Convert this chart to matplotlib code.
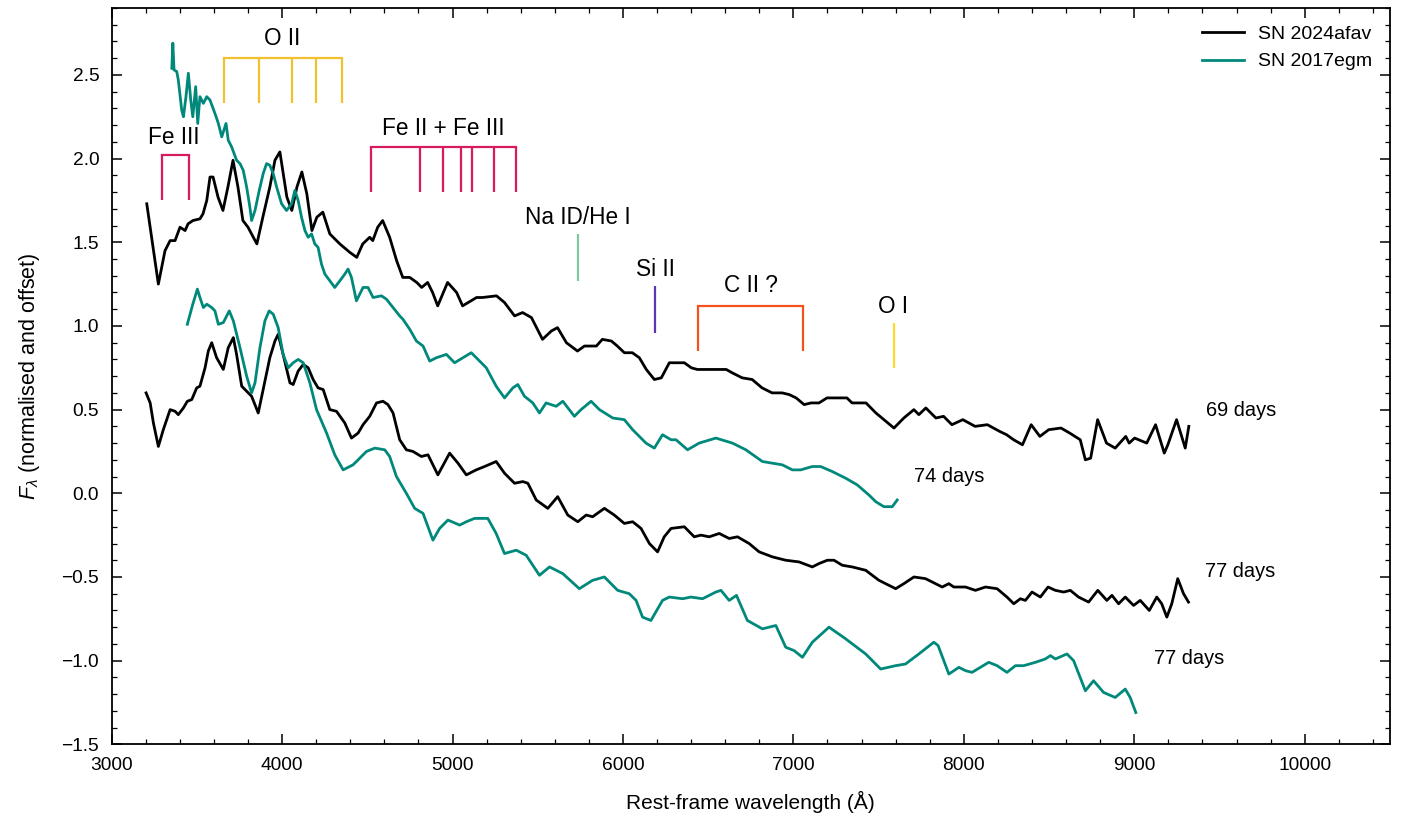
import matplotlib
matplotlib.use("Agg")
import matplotlib.pyplot as plt
from matplotlib.ticker import MultipleLocator

plt.rcParams['font.family'] = ['Liberation Sans', 'DejaVu Sans']
plt.rcParams['mathtext.fontset'] = 'custom'
plt.rcParams['mathtext.rm'] = 'Liberation Sans'
plt.rcParams['mathtext.it'] = 'Liberation Sans:italic'

# ---------------- data ----------------
# SN 2024afav, 69 days
wl_a69 = [3206, 3274, 3313, 3343, 3372, 3401, 3431, 3448, 3477, 3518,
          3536, 3558, 3577, 3595, 3624, 3653, 3682, 3712, 3741, 3770,
          3800, 3852, 3887, 3928, 3958, 3987, 4028, 4057, 4087, 4116,
          4145, 4175, 4204, 4239, 4280, 4339, 4397, 4438, 4473, 4514,
          4532, 4561, 4590, 4631, 4672, 4708, 4749, 4790, 4819, 4854,
          4883, 4913, 4971, 5024, 5059, 5141, 5176, 5258, 5305, 5364,
          5411, 5463,
          5528, 5580, 5616, 5668, 5733, 5774, 5803, 5844, 5879, 5932,
          5967, 6008, 6055, 6096, 6137, 6184, 6225, 6272, 6313, 6360,
          6401, 6436, 6488, 6547, 6606, 6641, 6699, 6758, 6816, 6875,
          6934, 6975, 7016, 7063, 7104, 7150, 7197, 7250, 7314, 7344,
          7426, 7484, 7531, 7590, 7648, 7707, 7736, 7777, 7836,
          7881, 7930, 7994, 8066, 8138, 8210, 8251, 8292, 8344, 8395,
          8446, 8498, 8570, 8621, 8683, 8713, 8744, 8785, 8837, 8888,
          8950, 8970, 9002, 9073, 9125, 9176, 9197, 9248, 9299, 9320]
fl_a69 = [1.73, 1.25, 1.45, 1.51, 1.51, 1.59, 1.57, 1.61, 1.63, 1.64,
          1.67, 1.75, 1.89, 1.89, 1.77, 1.69, 1.83, 1.99, 1.83, 1.63,
          1.59, 1.49, 1.65, 1.83, 1.99, 2.04, 1.77, 1.69, 1.83, 1.92,
          1.79, 1.57, 1.65, 1.68, 1.55, 1.49, 1.44, 1.41, 1.49, 1.53,
          1.51, 1.59, 1.63, 1.53, 1.39, 1.29, 1.29, 1.26, 1.23, 1.26,
          1.20, 1.12, 1.26, 1.20, 1.12, 1.17, 1.17, 1.18, 1.14, 1.06,
          1.08, 1.05,
          0.92, 0.97, 0.99, 0.90, 0.85, 0.88, 0.88, 0.88, 0.92, 0.91,
          0.88, 0.84, 0.84, 0.81, 0.74, 0.68, 0.69, 0.78, 0.78, 0.78,
          0.75, 0.74, 0.74, 0.74, 0.74, 0.72, 0.69, 0.68, 0.63, 0.60,
          0.60, 0.59, 0.57, 0.53, 0.54, 0.54, 0.57, 0.57, 0.57, 0.54,
          0.54, 0.48, 0.44, 0.39, 0.45, 0.50, 0.47, 0.51, 0.45,
          0.46, 0.41, 0.44, 0.40, 0.41, 0.37, 0.35, 0.32, 0.29, 0.41,
          0.34, 0.38, 0.39, 0.36, 0.32, 0.20, 0.21, 0.44, 0.30, 0.27,
          0.34, 0.30, 0.33, 0.30, 0.41, 0.24, 0.29, 0.44, 0.27, 0.40]

# SN 2017egm, 74 days
wl_e74 = [3353, 3359, 3366, 3382, 3391, 3411, 3421, 3436, 3450, 3464,
          3476, 3493, 3505, 3518, 3538, 3558, 3577, 3606, 3626, 3646,
          3671, 3684, 3704, 3733, 3753, 3772, 3792, 3811, 3821, 3841,
          3866, 3889, 3909, 3928, 3948, 3968, 3997, 4026, 4056, 4075,
          4094, 4114, 4134, 4153, 4173, 4192, 4211, 4231, 4251, 4280,
          4309, 4339, 4368, 4387, 4407, 4436, 4475, 4504, 4534, 4583,
          4612, 4651, 4690, 4709, 4749, 4788, 4827, 4866, 4905, 4964,
          5012, 5061, 5110, 5159, 5198, 5256, 5305, 5354, 5383, 5422,
          5471, 5510, 5549, 5608, 5647, 5715, 5754, 5813, 5862, 5940,
          6008, 6057, 6135, 6184, 6232, 6282, 6311, 6379, 6447, 6545,
          6642, 6721, 6818, 6935, 6994, 7043, 7111, 7160, 7228, 7307,
          7375, 7443, 7483, 7531, 7580, 7609]
fl_e74 = [2.54, 2.69, 2.53, 2.52, 2.47, 2.29, 2.25, 2.37, 2.51, 2.35,
          2.25, 2.43, 2.21, 2.37, 2.33, 2.37, 2.35, 2.27, 2.21, 2.13,
          2.21, 2.11, 2.07, 1.99, 1.97, 1.93, 1.83, 1.71, 1.63, 1.69,
          1.81, 1.91, 1.97, 1.96, 1.91, 1.83, 1.73, 1.69, 1.73, 1.81,
          1.75, 1.65, 1.57, 1.53, 1.55, 1.49, 1.47, 1.37, 1.31, 1.27,
          1.23, 1.27, 1.31, 1.34, 1.29, 1.15, 1.23, 1.23, 1.17, 1.18,
          1.16, 1.11, 1.06, 1.04, 0.98, 0.91, 0.88, 0.79, 0.81, 0.83,
          0.78, 0.81, 0.84, 0.79, 0.75, 0.64, 0.57, 0.63, 0.65, 0.58,
          0.54, 0.48, 0.54, 0.52, 0.55, 0.46, 0.50, 0.55, 0.50, 0.45,
          0.44, 0.38, 0.30, 0.27, 0.35, 0.32, 0.32, 0.26, 0.30, 0.33,
          0.30, 0.26, 0.19, 0.17, 0.14, 0.14, 0.16, 0.16, 0.13, 0.09,
          0.05, -0.01, -0.05, -0.08, -0.08, -0.04]

# SN 2024afav, 77 days
wl_a77 = [3202, 3226, 3245, 3274, 3303, 3343, 3372, 3391, 3421, 3444,
          3470, 3499, 3518, 3548, 3567, 3587, 3616, 3655, 3684, 3714,
          3733, 3763, 3792, 3821, 3860, 3889, 3928, 3958, 3977, 4006,
          4046, 4065, 4094, 4124, 4153, 4182, 4211, 4241, 4280, 4319,
          4368, 4407, 4446, 4475, 4514, 4554, 4592, 4621, 4651, 4690,
          4729, 4768, 4817, 4856, 4914, 4983, 5032, 5081, 5139, 5188,
          5256, 5305, 5364, 5412, 5442, 5491, 5559, 5617, 5676, 5735,
          5784, 5822, 5891, 5949, 6008, 6057, 6106, 6155, 6203, 6242,
          6282, 6360, 6418, 6457, 6506, 6565, 6623, 6672, 6740, 6799,
          6877, 6955, 7033, 7111, 7150, 7199, 7238, 7287, 7345, 7424,
          7502, 7600, 7648, 7707, 7775, 7834, 7873, 7912, 7941, 8010,
          8068, 8127, 8195, 8253, 8293, 8332, 8361, 8400, 8449, 8494,
          8537, 8586, 8625, 8673, 8732, 8786, 8839, 8869, 8908, 8947,
          8996, 9035, 9088, 9132, 9161, 9191, 9220, 9255, 9289, 9318]
fl_a77 = [0.60, 0.54, 0.42, 0.28, 0.38, 0.50, 0.49, 0.47, 0.51, 0.55,
          0.56, 0.63, 0.64, 0.75, 0.85, 0.90, 0.81, 0.74, 0.87, 0.93,
          0.83, 0.64, 0.61, 0.58, 0.48, 0.62, 0.81, 0.91, 0.95, 0.83,
          0.66, 0.65, 0.73, 0.77, 0.75, 0.68, 0.63, 0.62, 0.50, 0.49,
          0.42, 0.33, 0.36, 0.41, 0.46, 0.54, 0.55, 0.53, 0.48, 0.32,
          0.26, 0.25, 0.22, 0.23, 0.11, 0.24, 0.18, 0.11, 0.14, 0.16,
          0.19, 0.12, 0.06, 0.07, 0.06, -0.04, -0.09, -0.02, -0.13, -0.17,
          -0.13, -0.14, -0.09, -0.13, -0.18, -0.17, -0.21, -0.30, -0.35, -0.26,
          -0.21, -0.20, -0.26, -0.25, -0.26, -0.24, -0.27, -0.26, -0.30, -0.35,
          -0.38, -0.40, -0.41, -0.44, -0.42, -0.40, -0.40, -0.43, -0.44, -0.46,
          -0.52, -0.57, -0.54, -0.50, -0.51, -0.54, -0.56, -0.54, -0.56, -0.56,
          -0.58, -0.56, -0.57, -0.62, -0.66, -0.63, -0.64, -0.59, -0.62, -0.56,
          -0.58, -0.59, -0.58, -0.62, -0.65, -0.58, -0.64, -0.61, -0.66, -0.62,
          -0.67, -0.64, -0.70, -0.62, -0.66, -0.74, -0.66, -0.51, -0.60, -0.65]

# SN 2017egm, 77 days
wl_e77 = [3444, 3476, 3503, 3518, 3538, 3558, 3587, 3606, 3626, 3655,
          3690, 3714, 3753, 3792, 3821, 3841, 3870, 3899, 3924, 3948,
          3977, 4006, 4036, 4065, 4094, 4124, 4163, 4202, 4261, 4309,
          4358, 4416, 4446, 4495, 4544, 4602, 4631, 4671, 4729, 4778,
          4827, 4856, 4885, 4924, 4973, 5042, 5081, 5129, 5207, 5256,
          5305, 5374, 5432, 5510, 5569, 5647, 5744, 5822, 5891, 5969,
          6037, 6077, 6115, 6164, 6232, 6272, 6350, 6399, 6467, 6545,
          6575, 6623, 6666, 6730, 6818, 6897, 6955, 7004, 7053, 7111,
          7209, 7307, 7424, 7512, 7600, 7658, 7736, 7824, 7849, 7912,
          7971, 8010, 8048, 8146, 8195, 8253, 8303, 8351, 8420, 8478,
          8508, 8537, 8605, 8644, 8713, 8761, 8820, 8888, 8947, 8976,
          9009]
fl_e77 = [1.01, 1.13, 1.22, 1.17, 1.11, 1.13, 1.11, 1.09, 1.01, 1.02,
          1.09, 1.03, 0.87, 0.70, 0.60, 0.66, 0.87, 1.03, 1.09, 1.07,
          0.99, 0.83, 0.75, 0.78, 0.80, 0.78, 0.66, 0.50, 0.36, 0.23,
          0.14, 0.17, 0.20, 0.25, 0.27, 0.26, 0.22, 0.10, 0.00, -0.09,
          -0.12, -0.20, -0.28, -0.21, -0.16, -0.19, -0.17, -0.15, -0.15, -0.24,
          -0.36, -0.34, -0.37, -0.49, -0.44, -0.48, -0.57, -0.52, -0.50, -0.58,
          -0.60, -0.64, -0.74, -0.76, -0.64, -0.62, -0.63, -0.62, -0.63, -0.59,
          -0.58, -0.64, -0.61, -0.76, -0.81, -0.79, -0.92, -0.94, -0.98, -0.89,
          -0.80, -0.87, -0.96, -1.05, -1.03, -1.02, -0.96, -0.89, -0.91, -1.08,
          -1.04, -1.06, -1.07, -1.01, -1.03, -1.07, -1.03, -1.03, -1.01, -0.99,
          -0.97, -0.99, -0.96, -1.00, -1.18, -1.12, -1.19, -1.22, -1.17, -1.22,
          -1.31]

# line identifications: (label, wavelengths, bottom, top, colour, label x, label y)
fe3_wl = [3296, 3454]
o2_wl = [3659, 3862, 4056, 4198, 4349]
fe23_wl = [4524, 4811, 4944, 5051, 5116, 5241, 5370]
na_wl = [5737]
si2_wl = [6190]
c2_wl = [6442, 7057]
o1_wl = [7590]

line_ids = [
    ("Fe III", fe3_wl, 1.75, 2.02, "#d81b60", 3363, 2.09),
    ("O II", o2_wl, 2.33, 2.60, "#f2c12e", 4003, 2.68),
    ("Fe II + Fe III", fe23_wl, 1.80, 2.07, "#d81b60", 4948, 2.14),
    ("Na ID/He I", na_wl, 1.27, 1.55, "#80c8a0", 5735, 1.61),
    ("Si II", si2_wl, 0.96, 1.24, "#5e35b1", 6190, 1.30),
    ("C II ?", c2_wl, 0.85, 1.12, "#f4511e", 6751, 1.20),
    ("O I", o1_wl, 0.75, 1.02, "#fdd835", 7584, 1.08),
]

epochs = [("69 days", 9420, 0.46), ("74 days", 7707, 0.07),
          ("77 days", 9416, -0.50), ("77 days", 9113, -1.02)]

BLACK = "#000000"
TEAL = "#00897b"

# ---------------- figure ----------------
fig = plt.figure(figsize=(14.01, 8.24), dpi=100)
ax = fig.add_axes([0.0797, 0.0967, 0.9124, 0.8936])

LW = 2.0
ax.plot(wl_a69, fl_a69, color=BLACK, lw=LW, label="SN 2024afav")
ax.plot(wl_e74, fl_e74, color=TEAL, lw=LW, label="SN 2017egm")
ax.plot(wl_a77, fl_a77, color=BLACK, lw=LW)
ax.plot(wl_e77, fl_e77, color=TEAL, lw=LW)

for label, wls, lo, hi, col, tx, ty in line_ids:
    for w in wls:
        ax.plot([w, w], [lo, hi], color=col, lw=1.6, solid_capstyle='butt')
    if len(wls) > 1:
        ax.plot([wls[0], wls[-1]], [hi, hi], color=col, lw=1.6,
                solid_capstyle='projecting')
    ax.text(tx, ty, label, ha='center', va='baseline', fontsize=16.3)

for txt, x, y in epochs:
    ax.text(x, y, txt, ha='left', va='baseline', fontsize=14.4)

ax.set_xlim(3000, 10500)
ax.set_ylim(-1.5, 2.9)
ax.xaxis.set_major_locator(MultipleLocator(1000))
ax.xaxis.set_minor_locator(MultipleLocator(200))
ax.yaxis.set_major_locator(MultipleLocator(0.5))
ax.yaxis.set_minor_locator(MultipleLocator(0.1))
ax.tick_params(which='both', direction='in', top=True, right=True,
               labelsize=13.8, pad=9)
ax.tick_params(which='major', length=7.2, width=1.1)
ax.tick_params(which='minor', length=3.6, width=0.9)
for s in ax.spines.values():
    s.set_linewidth(1.3)

ax.set_xlabel("Rest-frame wavelength (Å)", fontsize=15, labelpad=12)
ax.set_ylabel(r"$F_\lambda$ (normalised and offset)", fontsize=15.5,
              labelpad=14)

ax.legend(loc='upper right', frameon=False, fontsize=14,
          handlelength=2.16, handletextpad=0.75)

fig.savefig("out.png", dpi=100)
